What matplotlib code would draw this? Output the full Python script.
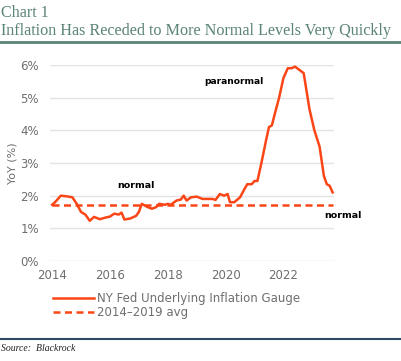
import numpy as np
import matplotlib.pyplot as plt

# NY Fed Underlying Inflation Gauge (decimal year, % YoY)
years = [2014.0, 2014.1, 2014.3, 2014.5, 2014.7, 2014.85, 2015.0, 2015.15, 2015.3,
         2015.45, 2015.65, 2015.85, 2016.0, 2016.15, 2016.3, 2016.4, 2016.5, 2016.7,
         2016.9, 2017.0, 2017.1, 2017.3, 2017.45, 2017.6, 2017.7, 2017.9, 2018.0,
         2018.1, 2018.3, 2018.45, 2018.55, 2018.65, 2018.8, 2019.0, 2019.2, 2019.55,
         2019.65, 2019.8, 2019.95, 2020.07, 2020.15, 2020.3, 2020.5, 2020.65, 2020.75,
         2020.9, 2021.0, 2021.1, 2021.25, 2021.4, 2021.5, 2021.6, 2021.7, 2021.85,
         2022.0, 2022.15, 2022.28, 2022.4, 2022.55, 2022.7, 2022.9, 2023.07, 2023.25,
         2023.4, 2023.5, 2023.6, 2023.7]
uig = [1.72, 1.8, 2.0, 1.98, 1.95, 1.75, 1.5, 1.42, 1.23,
       1.35, 1.28, 1.33, 1.36, 1.45, 1.42, 1.48, 1.27, 1.3,
       1.38, 1.5, 1.75, 1.65, 1.6, 1.65, 1.75, 1.72, 1.75,
       1.72, 1.85, 1.88, 2.0, 1.85, 1.95, 1.97, 1.9, 1.9,
       1.87, 2.05, 2.0, 2.05, 1.8, 1.8, 1.95, 2.2, 2.35,
       2.35, 2.45, 2.45, 3.05, 3.7, 4.1, 4.15, 4.5, 5.0,
       5.6, 5.9, 5.9, 5.95, 5.85, 5.75, 4.65, 4.0, 3.5,
       2.6, 2.35, 2.3, 2.1]
avg_2014_2019 = 1.7

orange = '#fa4616'
grey = '#6e6e6e'

fig = plt.figure(figsize=(4.01, 3.61), dpi=100)
ax = fig.add_axes([0.125, 0.277, 0.708, 0.543])

ax.plot(years, uig, color=orange, lw=1.8, label='NY Fed Underlying Inflation Gauge',
        clip_on=False, solid_joinstyle='round')
ax.plot([2014.0, 2023.72], [avg_2014_2019] * 2, color=orange, lw=1.8,
        ls=(0, (2.8, 1.8)), label='2014–2019 avg')

ax.set_xlim(2013.93, 2023.75)
ax.set_ylim(0, 6)
ax.set_xticks([2014, 2016, 2018, 2020, 2022])
ax.set_yticks(range(0, 7))
ax.set_yticklabels([f'{v}%' for v in range(0, 7)])
ax.grid(axis='y', color='#e3e3e3', lw=1)
ax.set_axisbelow(True)
for s in ax.spines.values():
    s.set_visible(False)
ax.tick_params(length=0, labelsize=8.5, colors=grey, pad=6)
ax.tick_params(axis='y', pad=8)
ax.set_ylabel('YoY (%)', fontsize=8, color=grey, labelpad=2)

ax.text(2020.3, 5.5, 'paranormal', fontsize=6.6, fontweight='bold', ha='center', va='center')
ax.text(2016.9, 2.3, 'normal', fontsize=6.8, fontweight='bold', ha='center', va='center')
ax.text(2023.42, 1.4, 'normal', fontsize=6.8, fontweight='bold', ha='left', va='center',
        clip_on=False)

leg = ax.legend(loc='upper left', bbox_to_anchor=(-0.005, -0.135), frameon=False,
                fontsize=8.5, handlelength=3.4, handletextpad=0.3, labelspacing=0.1,
                borderaxespad=0)
for t in leg.get_texts():
    t.set_color(grey)

teal = '#5a8378'
fig.text(0.003, 0.965, 'Chart 1', family='Liberation Serif', fontsize=11.6,
         color=teal, va='center')
fig.text(0.003, 0.915, 'Inflation Has Receded to More Normal Levels Very Quickly',
         family='Liberation Serif', fontsize=11.6, color=teal, va='center')
fig.add_artist(plt.Line2D([0, 1], [0.883, 0.883], color=teal, lw=2))
fig.add_artist(plt.Line2D([0, 1], [0.06, 0.06], color='#2e4a62', lw=1.5))
fig.text(0.003, 0.035, 'Source:  Blackrock', family='Liberation Serif', style='italic',
         fontsize=7, color='#222222', va='center')

fig.savefig('out.png', dpi=100)
